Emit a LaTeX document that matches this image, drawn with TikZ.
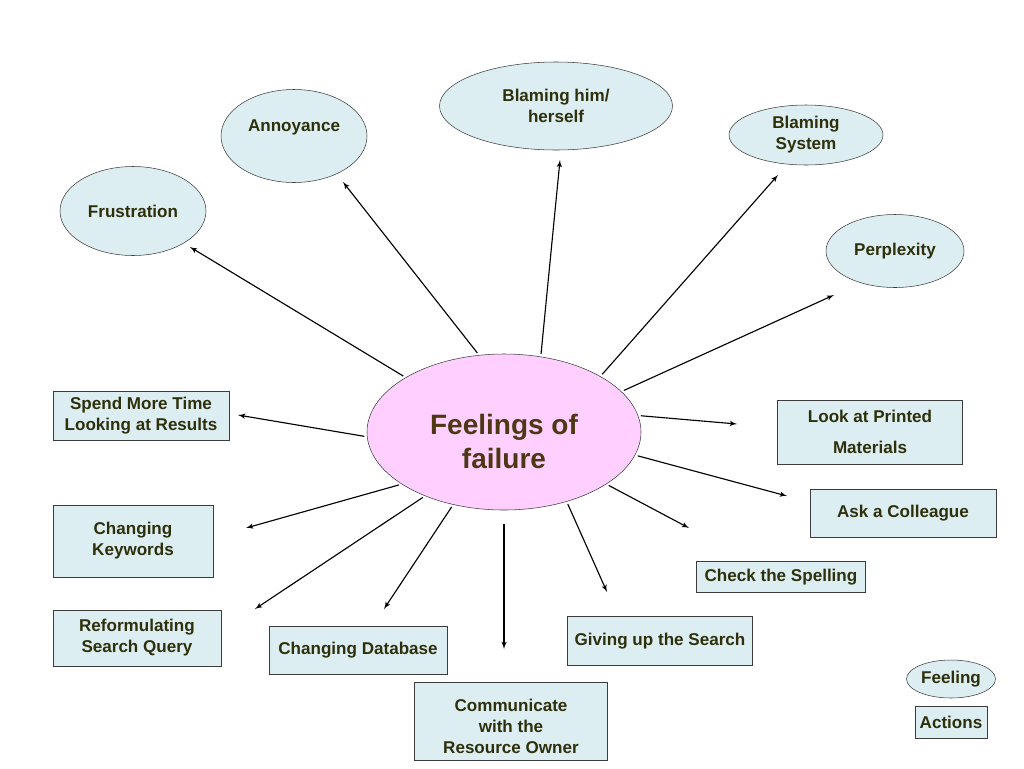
\documentclass[tikz,border=0pt]{standalone}
\usepackage{fontspec}
\setmainfont{Liberation Sans}
\usetikzlibrary{shapes.geometric, arrows, positioning}
\definecolor{boxblue}{RGB}{221,238,243}
\definecolor{failpink}{RGB}{255,208,255}
\definecolor{labeltext}{RGB}{45,48,10}
\definecolor{failtext}{RGB}{77,56,20}
\definecolor{edgegray}{RGB}{60,60,60}

\begin{document}
\begin{tikzpicture}[
    x=0.75pt, y=-0.75pt,
    feel/.style={ellipse, draw=edgegray, fill=boxblue, inner sep=0pt, align=center, text=labeltext, font=\bfseries\fontsize{12.8}{15.75}\selectfont},
    act/.style={rectangle, draw=edgegray, fill=boxblue, inner sep=0pt, align=center, text=labeltext, font=\bfseries\fontsize{12.8}{15.75}\selectfont},
    line/.style={draw, -latex', line width=0.85pt, shorten <=2pt}
]
\useasboundingbox (0,0) rectangle (1024,768);

% centre
\node [ellipse, draw=edgegray, fill=failpink, minimum width=205.5pt, minimum height=117pt, align=center, text=failtext, font=\bfseries\fontsize{21}{25.5}\selectfont] (fail) at (504,432) {\rule{0pt}{29pt}Feelings of\\failure};

% feelings
\node [feel, minimum width=109.5pt, minimum height=66.75pt] (frus) at (133,211) {Frustration};
\node [feel, minimum width=109.5pt, minimum height=69.75pt, text depth=15pt] (annoy) at (294,136) {Annoyance};
\node [feel, minimum width=174.75pt, minimum height=66pt] (blself) at (556,106) {Blaming him/\\herself};
\node [feel, minimum width=115.5pt, minimum height=45pt] (blsys) at (806,135) {Blaming\\System};
\node [feel, minimum width=103.5pt, minimum height=54.75pt] (perp) at (895,251) {Perplexity};

% actions
\node [act, minimum width=132pt, minimum height=36.75pt] (spend) at (141,415.5) {Spend More Time\\Looking at Results};
\node [act, minimum width=120pt, minimum height=54pt] (keyw) at (133,541) {Changing\\Keywords};
\node [act, minimum width=126pt, minimum height=42pt] (reform) at (137,638) {Reformulating\\Search Query};
\node [act, minimum width=133.5pt, minimum height=36pt] (db) at (358,650) {Changing Database};
\node [act, minimum width=144.75pt, minimum height=58.5pt] (comm) at (511,721) {\rule{0pt}{17pt}Communicate\\with the\\Resource Owner};
\node [act, minimum width=138.75pt, minimum height=36.75pt] (giveup) at (660,641) {Giving up the Search};
\node [act, minimum width=126.75pt, minimum height=23.25pt] (spell) at (781,577) {Check the Spelling};
\node [act, minimum width=139.5pt, minimum height=36pt] (ask) at (903,513) {Ask a Colleague};
\node [act, minimum width=138.75pt, minimum height=48pt, font=\bfseries\fontsize{12.8}{23}\selectfont] (printed) at (870,432) {Look at Printed\\Materials};

% legend
\node [feel, minimum width=66.75pt, minimum height=28.5pt] (legfeel) at (951,679) {Feeling};
\node [act, minimum width=54pt, minimum height=24pt] (legact) at (951,722) {Actions};

% arrow ends
\coordinate (tfrus) at (190,247);
\coordinate (tannoy) at (343,182);
\coordinate (tblself) at (560,160);
\coordinate (tblsys) at (778,175);
\coordinate (tperp) at (834,295);
\coordinate (tprinted) at (737,424);
\coordinate (task) at (787,496);
\coordinate (tspell) at (689,528);
\coordinate (tgiveup) at (607,592);
\coordinate (tcomm) at (504,649);
\coordinate (tdb) at (384,609);
\coordinate (treform) at (255,609);
\coordinate (tkeyw) at (246,528);
\coordinate (tspend) at (238,415);

\path [line] (fail.151) -- (tfrus);
\path [line] (fail.108) -- (tannoy);
\path [line] (fail.64) -- (tblself);
\path [line] (fail.30) -- (tblsys);
\path [line] (fail.19) -- (tperp);
\path [line] (fail.7) -- (tprinted);
\path [line] (fail.-10) -- (task);
\path [line] (fail.-27) -- (tspell);
\path [line] (fail.-48) -- (tgiveup);
\path [line, shorten <=10pt] (fail.-90) -- (tcomm);
\path [line] (fail.-125) -- (tdb);
\path [line] (fail.-141) -- (treform);
\path [line] (fail.-153) -- (tkeyw);
\path [line] (fail.182) -- (tspend);

\end{tikzpicture}
\end{document}
